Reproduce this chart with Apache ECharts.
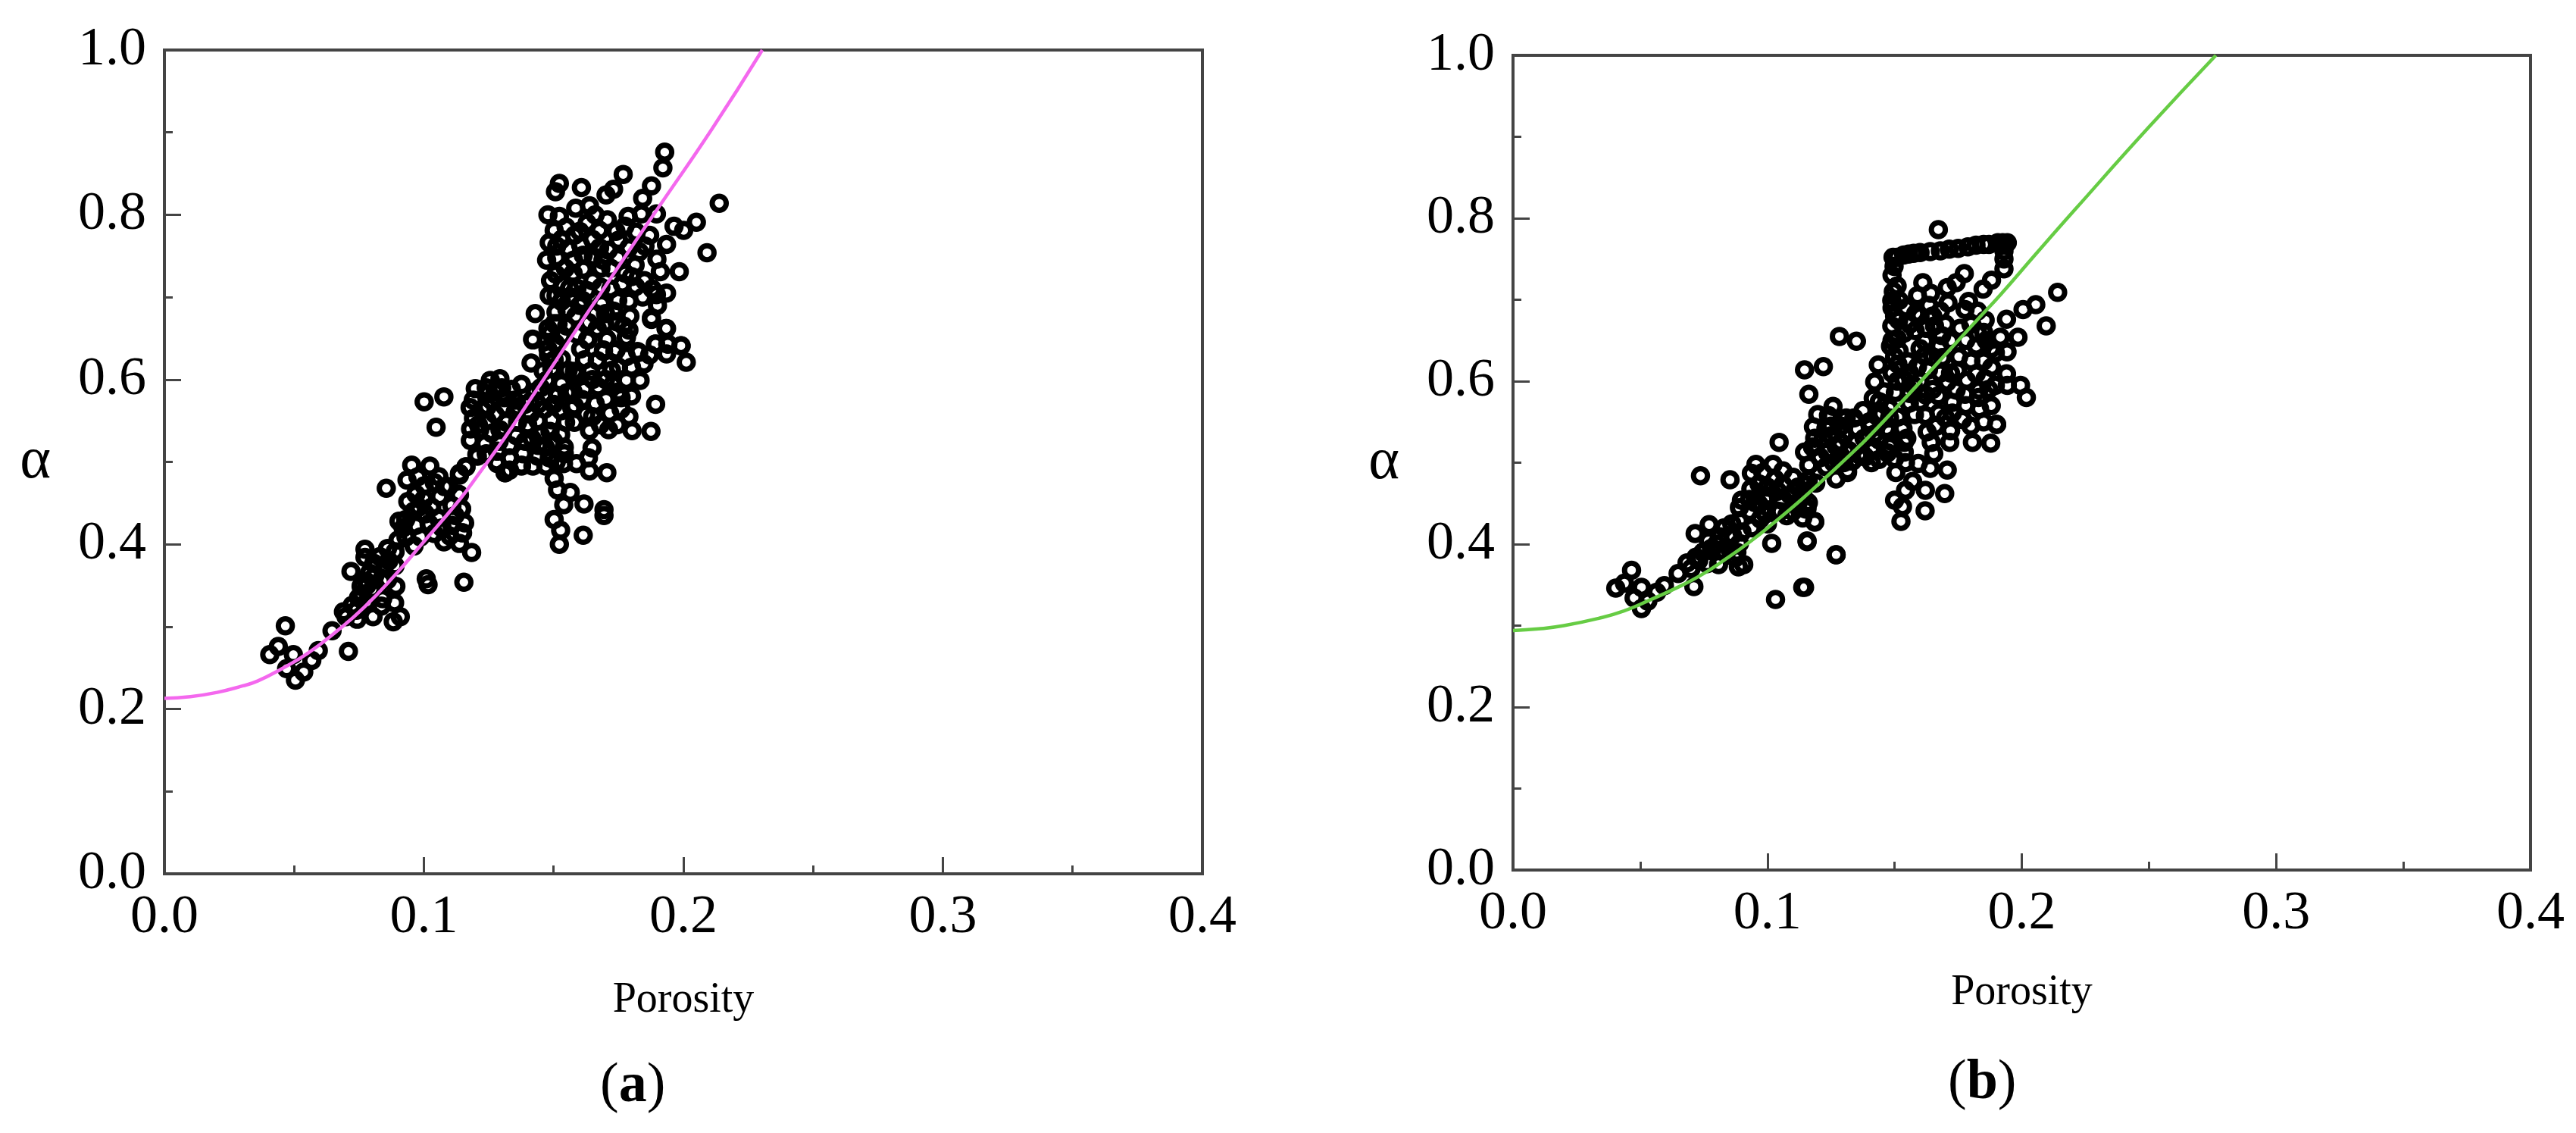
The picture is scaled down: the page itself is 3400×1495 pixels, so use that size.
<!DOCTYPE html>
<html><head><meta charset="utf-8">
<style>html,body{margin:0;padding:0;background:#fff}#c{width:3400px;height:1495px}</style>
<script src="https://cdn.jsdelivr.net/npm/echarts@6/dist/echarts.min.js"></script>
</head><body><div id="c"></div>
<script>
const xLabel = 'Porosity';
const yLabel = 'α';
const captions = ['a', 'b'];
const curveA = [[0,.213],[.01,.215],[.02,.220],[.03,.228],[.0359,.234],[.0447,.248],[.0554,.268],[.067,.296],[.0768,.323],[.0884,.361],[.0991,.400],[.1137,.454],[.1215,.487],[.1313,.530],[.141,.576],[.1507,.622],[.1624,.678],[.1682,.705],[.1809,.765],[.1911,.812],[.211,.904],[.2304,1.0]];
const curveB = [[0,.294],[.01,.296],[.02,.300],[.0337,.309],[.0436,.318],[.0535,.331],[.0634,.345],[.0734,.361],[.0833,.381],[.0932,.403],[.1032,.428],[.1131,.454],[.123,.482],[.133,.511],[.1399,.532],[.1538,.578],[.1677,.625],[.1836,.679],[.1916,.706],[.2055,.756],[.2213,.812],[.25,.912],[.2763,1]];
const scatterA = [
[.0466,.301],[.0406,.266],[.0439,.276],[.0497,.266],[.0471,.249],[.0537,.245],[.0505,.235],[.0568,.259],[.0593,.271],[.0646,.295],[.0709,.270],[.0719,.367],[.0773,.384],[.0773,.394],[.0811,.362],[.0748,.335],[.0724,.326],[.0690,.318],[.0758,.349],[.0889,.391],[.0931,.409],[.0969,.423],[.1006,.437],[.0904,.428],[.0938,.452],[.0969,.461],[.1061,.458],[.0855,.468],[.0953,.496],[.1023,.495],[.0977,.482],[.1058,.482],[.0935,.478],[.1001,.471],[.1096,.470],[.1162,.494],[.1137,.486],[.1137,.460],[.1108,.447],[.1145,.443],[.1055,.432],[.0987,.409],[.1149,.414],[.1077,.403],[.1137,.401],[.1184,.390],[.1016,.351],[.1009,.358],[.1154,.354],[.0892,.349],[.0841,.334],[.0887,.329],[.0804,.312],[.0882,.306],[.0909,.312],[.0860,.357],[.0807,.377],[.0865,.380],[.0777,.355],[.0700,.312],[.0743,.309],[.0836,.325],[.0962,.398],[.1040,.413],[.1108,.423],[.1157,.426],[.1313,.487],[.1332,.504],[.1206,.507],[.1376,.496],[.1283,.498],[.0889,.374],
[.1420,.648],[.1413,.620],[.1533,.653],[.1631,.648],[.1705,.649],[.1780,.651],[.1746,.670],[.1634,.669],[.1877,.673],[.1933,.662],[.1892,.643],[.1940,.643],[.1991,.641],[.2011,.621],[.1828,.633],[.1668,.623],[.1556,.611],[.1502,.624],[.1723,.611],[.1728,.594],[.1833,.599],[.1671,.591],[.1617,.588],[.1473,.599],[.1514,.581],[.1429,.585],[.1376,.594],[.1310,.578],[.1256,.599],[.1198,.589],[.1178,.566],[.1225,.563],[.1244,.550],[.1179,.526],[.1204,.509],[.1162,.494],[.1760,.578],[.1660,.571],[.1716,.559],[.1624,.558],[.1529,.562],[.1465,.564],[.1760,.564],[.1893,.570],[.1802,.538],[.1875,.537],[.1712,.539],[.1638,.538],[.1486,.537],[.1417,.528],[.1356,.532],[.1546,.548],[.1439,.550],[.1493,.551],[.1468,.518],[.1381,.510],[.1330,.505],[.1313,.487],[.1648,.517],[.1538,.498],[.1588,.498],[.1638,.489],[.1705,.487],[.1502,.480],[.1564,.463],[.1515,.466],[.1539,.448],[.1617,.449],[.1694,.442],[.1694,.435],[.1502,.430],[.1527,.417],[.1614,.411],[.1522,.400],[.1145,.443],[.1147,.414],[.1133,.461],[.1283,.513],[.1235,.522],[.1293,.539],[.1352,.561],[.1400,.545],[.1361,.548],[.1191,.553],[.1240,.582],[.1274,.585],[.1337,.588],[.1619,.624],[.1692,.636],[.1736,.634],[.1643,.610],[.1780,.628],[.1848,.619],[.1780,.599],[.1575,.585],[.1551,.584],[.1580,.568],[.1609,.576],[.1702,.576],[.1439,.507],[.1483,.505],[.1376,.495],[.1541,.518],[.1541,.510],[.1634,.505],[.1580,.548],[.1935,.631],[.1215,.539],[.1137,.484],[.1274,.558],[.1317,.548],[.1361,.567],[.1449,.533],[.1527,.533],[.1410,.558],[.1244,.567],[.1313,.567],[.1293,.601],[.1410,.573],[.1488,.656],[.1478,.637],[.1493,.613],[.1507,.644],
[.1928,.876],[.1921,.857],[.1768,.849],[.1877,.835],[.1843,.820],[.1607,.833],[.1702,.824],[.1731,.831],[.1522,.838],[.1507,.828],[.1585,.808],[.1638,.811],[.1522,.798],[.1629,.790],[.1707,.794],[.1787,.798],[.1896,.801],[.1838,.801],[.2138,.814],[.2050,.791],[.2001,.781],[.1964,.786],[.1935,.764],[.2091,.754],[.1984,.731],[.1935,.705],[.1548,.785],[.1677,.781],[.1580,.775],[.1502,.781],[.1818,.779],[.1775,.786],[.1512,.762],[.1556,.759],[.1750,.769],[.1677,.760],[.1852,.762],[.1512,.748],[.1577,.745],[.1748,.748],[.1814,.739],[.1898,.746],[.1682,.735],[.1509,.728],[.1575,.729],[.1911,.731],[.1614,.734],[.1488,.720],[.1765,.716],[.1816,.713],[.1682,.712],[.1843,.700],[.1896,.703],[.1509,.702],[.1565,.700],[.1612,.696],[.1747,.696],[.1685,.692],[.1551,.685],[.1509,.682],[.1429,.680],[.1585,.677],[.1877,.675],[.1634,.669],[.1744,.670],[.1794,.677],[.1935,.662],[.1419,.649],[.1533,.653],[.1631,.649],[.1705,.649],[.1780,.651],[.1893,.643],[.1940,.643],[.1991,.641],[.1823,.634],[.1697,.668],[.1668,.662],[.1614,.751],[.1653,.749],[.1711,.757],[.1775,.729],[.1590,.711],[.1561,.711],[.1629,.708],[.1731,.683],[.1478,.800],[.1483,.766],[.1473,.745],[.1483,.702],[.1478,.662],[.1604,.763],[.1502,.668],[.1517,.668],[.1741,.636],[.1604,.637],[.1692,.634],
[.1001,.573],[.1077,.579],[.1047,.542],
[.1530,.770],[.1545,.735],[.1535,.715],[.1600,.780],[.1650,.770],[.1660,.800],[.1740,.780],[.1690,.745],[.1720,.735],[.1790,.760],[.1830,.755],[.1870,.775],[.1800,.725],[.1850,.720],[.1880,.710],[.1790,.695],[.1720,.710],[.1650,.720],[.1600,.690],[.1530,.695],[.1550,.665],[.1590,.655],[.1660,.680],[.1700,.680],[.1770,.665],[.1790,.660],[.1900,.690],[.1870,.630],[.1800,.615],[.1750,.615],[.1650,.600],[.1590,.605],[.1530,.625],[.1480,.630],[.1460,.610],[.1450,.590],[.1530,.595],[.1580,.610],[.1700,.600],[.1750,.585],[.1800,.580],[.1790,.555],[.1745,.545],[.1680,.545],[.1650,.555],[.1500,.525],[.1440,.520],[.1390,.525],[.1330,.520],[.1290,.525],[.1260,.535],[.1240,.510],[.1280,.500],[.1330,.490],[.1420,.495],[.1470,.495],[.1510,.500],[.1350,.575],[.1390,.570],[.1300,.590],[.1240,.590],[.1190,.575],[.1210,.545],[.1180,.540],[.1260,.575],[.1440,.570],[.1500,.570],[.1570,.565],
[.0960,.440],[.1020,.425],[.1070,.420],[.1100,.410],[.1120,.435],[.1030,.445],[.0930,.430],[.0900,.405],[.0860,.395],[.0830,.385],[.0790,.365],[.0760,.340],[.0740,.320],[.0780,.350],[.0800,.345],[.0840,.355],[.0850,.375],[.0780,.330],[.0920,.420],[.1000,.455],[.1080,.470],[.1040,.475],[.0980,.445]];
const scatterB = [
[.0466,.368],[.0404,.346],[.0438,.352],[.0505,.347],[.0476,.334],[.0505,.321],[.0565,.341],[.0595,.349],[.0530,.330],[.0649,.364],[.0711,.348],[.0737,.484],[.0853,.479],[.0771,.424],[.0716,.413],[.0813,.409],[.0746,.390],[.0719,.384],[.0684,.377],[.0833,.390],[.0890,.429],[.0930,.440],[.0890,.401],[.0886,.372],[.0808,.375],[.0907,.375],[.0763,.376],[.0768,.404],[.0813,.392],[.0863,.411],[.0873,.383],[.0955,.498],[.1022,.498],[.0982,.488],[.0937,.487],[.1061,.490],[.0967,.474],[.1061,.473],[.1101,.482],[.0935,.468],[.1007,.459],[.1106,.465],[.1146,.473],[.1163,.497],[.1207,.506],[.1235,.514],[.1178,.519],[.1046,.525],[.1315,.490],[.1330,.502],[.1384,.507],[.1290,.508],[.0898,.454],[.0967,.449],[.1056,.454],[.1035,.441],[.0992,.437],[.1076,.435],[.1151,.443],[.1139,.432],[.1186,.427],[.1017,.401],[.1156,.403],[.1270,.387],[.1139,.347],[.1032,.332],[.0972,.431],[.0952,.451],[.1121,.451],
[.1672,.786],[.1943,.770],[.1906,.770],[.1871,.768],[.1788,.765],[.1715,.762],[.1640,.759],[.1575,.757],[.1536,.755],[.1494,.752],[.1498,.741],[.1930,.750],[.1930,.738],[.1774,.732],[.1881,.724],[.1848,.713],[.1707,.715],[.1611,.721],[.1510,.717],[.1642,.708],[.1590,.705],[.1742,.721],[.1791,.698],[.1710,.696],[.1635,.693],[.1518,.699],[.1545,.690],[.1583,.683],[.1516,.675],[.1680,.686],[.1826,.686],[.1856,.675],[.1757,.665],[.1581,.662],[.1685,.656],[.1511,.652],[.1623,.665],[.1657,.668],[.1916,.654],[.1985,.654],[.1940,.676],[.2005,.688],[.2055,.694],[.2141,.709],[.2096,.668],[.1942,.636],[.1821,.643],[.1881,.617],[.1940,.609],[.1896,.595],[.1943,.595],[.1995,.595],[.2018,.580],[.1283,.655],[.1350,.649],[.1220,.618],[.1146,.614],[.1163,.584],[.1436,.620],[.1422,.599],[.1416,.579],[.1536,.602],[.1590,.618],[.1618,.631],[.1687,.629],[.1752,.630],[.1633,.614],[.1747,.613],[.1707,.599],[.1783,.601],[.1831,.589],[.1672,.582],[.1727,.574],[.1834,.566],[.1623,.583],[.1479,.567],[.1558,.573],[.1376,.564],[.1432,.557],[.1258,.569],[.1198,.559],[.1181,.544],[.1901,.547],[.1621,.558],[.1674,.561],[.1767,.553],[.1533,.542],[.1469,.542],[.1720,.539],[.1310,.555],[.1240,.558],[.1354,.541],[.1856,.603],[.1896,.635],[.1826,.659],[.1677,.643],[.1518,.637],[.1513,.621],[.1553,.624],[.1459,.587],[.1503,.586],[.1573,.595],[.1742,.589],[.1578,.559],[.1513,.556],[.1727,.561],[.1662,.545],[.1777,.688],[.1777,.584],[.1821,.609],[.1489,.668],[.1489,.699],[.1484,.643],[.1538,.659],[.1618,.649],
[.1178,.519],[.1206,.507],[.1163,.497],[.1230,.542],[.1250,.533],[.1288,.525],[.1305,.553],[.1290,.508],[.1235,.513],[.1335,.502],[.1382,.508],[.1419,.519],[.1472,.512],[.1489,.526],[.1531,.541],[.1315,.488],[.1543,.500],[.1593,.499],[.1505,.488],[.1640,.493],[.1707,.491],[.1654,.511],[.1644,.525],[.1717,.525],[.1720,.540],[.1628,.538],[.1665,.545],[.1806,.525],[.1878,.524],[.1901,.547],[.1767,.553],[.1543,.466],[.1621,.466],[.1571,.477],[.1697,.462],[.1620,.441],[.1500,.454],[.1531,.446],[.1525,.428],[.1186,.428],[.1156,.444],[.1156,.404],[.1270,.387],[.1146,.347],[.1151,.473],[.1161,.451],[.1439,.528],[.1538,.525],[.1548,.530],[.1439,.504],[.1409,.500],[.1538,.513],[.1479,.538],[.1404,.544],[.1300,.535],[.1350,.525],[.1186,.530],[.1146,.513],[.1161,.479],
[.1510,.752],[.1555,.756],[.1600,.758],[.1680,.760],[.1750,.763],[.1820,.767],[.1850,.768],[.1925,.770],[.1930,.760],[.1490,.730],[.1495,.710],[.1490,.690],[.1500,.680],[.1490,.650],[.1500,.630],[.1490,.610],[.1510,.600],[.1560,.670],[.1600,.680],[.1650,.680],[.1700,.670],[.1600,.640],[.1650,.630],[.1720,.650],[.1780,.650],[.1800,.670],[.1850,.660],[.1860,.650],[.1880,.640],[.1850,.625],[.1800,.625],[.1720,.610],[.1680,.610],[.1560,.610],[.1600,.600],[.1650,.590],[.1780,.570],[.1830,.580],[.1870,.590],[.1880,.570],[.1850,.550],[.1800,.545],[.1700,.555],[.1600,.575],[.1560,.585],[.1480,.555],[.1440,.575],[.1450,.560],[.1400,.550],[.1340,.555],[.1290,.545],[.1250,.545],[.1220,.530],[.1270,.520],[.1320,.515],[.1380,.530],[.1420,.535],[.1480,.520],[.1500,.505],[.1410,.515],[.1360,.510],[.1300,.500],[.1260,.500],
[.1000,.470],[.1040,.465],[.1090,.460],[.1120,.470],[.1030,.480],[.0990,.455],[.0930,.455],[.0890,.445],[.0860,.425],[.0830,.420],[.0800,.400],[.0780,.395],[.0730,.380],[.0700,.370],[.0850,.395],[.0880,.390],[.0900,.415],[.0940,.420],[.1000,.425],[.1050,.440],[.1100,.440],[.1140,.460],[.1190,.475],[.1230,.495],[.1270,.480]];

const serif = '"Liberation Serif", "Times New Roman", serif';
const frame = '#444';
const grids = [
  {left: 217, top: 66, width: 1370, height: 1087},
  {left: 1997, top: 73, width: 1343, height: 1075}
];
const nameGapX = [139, 134];
function xAxis(i) {
  return {
    gridIndex: i, type: 'value', min: 0, max: 0.4, interval: 0.1,
    name: xLabel, nameLocation: 'middle', nameGap: nameGapX[i],
    nameTextStyle: {fontFamily: serif, fontSize: 56, color: '#000'},
    axisLine: {lineStyle: {color: frame, width: 4}},
    axisTick: {inside: true, length: 22, lineStyle: {color: frame, width: 3}},
    minorTick: {show: true, splitNumber: 2, length: 11, lineStyle: {color: frame, width: 3}},
    splitLine: {show: false},
    axisLabel: {fontFamily: serif, fontSize: 72, color: '#000', margin: 22, formatter: v => v.toFixed(1)}
  };
}
function yAxis(i) {
  return {
    gridIndex: i, type: 'value', min: 0, max: 1, interval: 0.2,
    name: yLabel, nameLocation: 'middle', nameGap: 150, nameRotate: 0,
    nameTextStyle: {fontFamily: serif, fontSize: 78, color: '#000'},
    axisLine: {lineStyle: {color: frame, width: 4}},
    axisTick: {inside: true, length: 22, lineStyle: {color: frame, width: 3}},
    minorTick: {show: true, splitNumber: 2, length: 11, lineStyle: {color: frame, width: 3}},
    splitLine: {show: false},
    axisLabel: {fontFamily: serif, fontSize: 72, color: '#000', margin: 24, formatter: v => v.toFixed(1)}
  };
}
function scatter(i, data) {
  return {type: 'scatter', xAxisIndex: i, yAxisIndex: i, data, symbol: 'circle', symbolSize: 18.5, z: 2,
    itemStyle: {color: 'rgba(255,255,255,0)', borderColor: '#000', borderWidth: 7, opacity: 1},
    animation: false, silent: true};
}
function curve(i, data, color) {
  return {type: 'line', xAxisIndex: i, yAxisIndex: i, data, showSymbol: false, smooth: 0.5, z: 3,
    lineStyle: {color, width: 4.5}, animation: false, silent: true};
}
function caption(i, cx, cy) {
  return {type: 'text', left: cx - 46, top: cy - 44, z: 10,
    style: {
      text: '{n|(}{b|' + captions[i] + '}{n|)}',
      rich: {
        n: {fontFamily: serif, fontSize: 74, fill: '#000', fontWeight: 'normal'},
        b: {fontFamily: serif, fontSize: 74, fill: '#000', fontWeight: 'bold'}
      }
    }};
}
const chart = echarts.init(document.getElementById('c'), null, {renderer: 'canvas'});
chart.setOption({
  backgroundColor: '#fff',
  animation: false,
  grid: grids.map(g => Object.assign({show: true, borderColor: frame, borderWidth: 4, backgroundColor: 'transparent', containLabel: false}, g)),
  xAxis: [xAxis(0), xAxis(1)],
  yAxis: [yAxis(0), yAxis(1)],
  series: [scatter(0, scatterA), curve(0, curveA, '#f468ee'), scatter(1, scatterB), curve(1, curveB, '#66cc44')],
  graphic: [caption(0, 838, 1441), caption(1, 2617, 1437)]
});
</script></body></html>
